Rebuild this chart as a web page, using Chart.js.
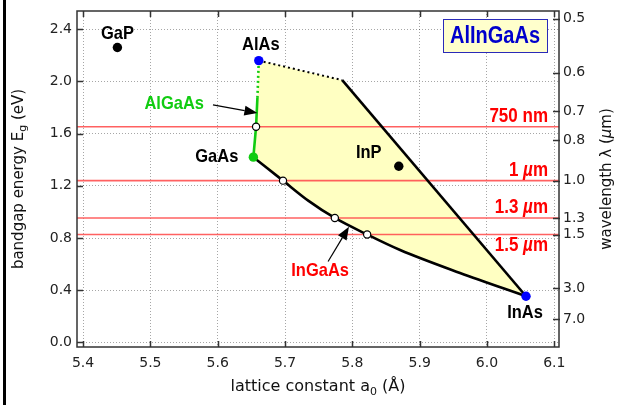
<!DOCTYPE html>
<html>
<head>
<meta charset="utf-8">
<script src="https://cdn.jsdelivr.net/npm/chart.js@4.4.1/dist/chart.umd.min.js"></script>
<style>
  html, body { margin: 0; padding: 0; background: #fff; }
  canvas { display: block; }
</style>
</head>
<body>
<canvas id="bandgapChart" width="618" height="405"></canvas>
<script>
// axis ranges and tick values
const X_MIN = 5.391, X_MAX = 6.107;
const EG_MIN = -0.035, EG_MAX = 2.54;
const xTicks = [5.4, 5.5, 5.6, 5.7, 5.8, 5.9, 6.0, 6.1];
const egTicks = [0.0, 0.4, 0.8, 1.2, 1.6, 2.0, 2.4];
const wavelengthTicks = [0.5, 0.6, 0.7, 0.8, 1.0, 1.3, 1.5, 3.0, 7.0];

// binary compounds: lattice constant (Å) and bandgap (eV)
const binaryNames = ['GaP', 'AlAs', 'GaAs', 'InP', 'InAs'];
const binaryA = [5.451, 5.661, 5.653, 5.869, 6.058];
const binaryEg = [2.26, 2.16, 1.42, 1.35, 0.354];

// InGaAs, GaAs -> InAs
const inGaAsA = [5.653, 5.697, 5.735, 5.774, 5.822, 5.871, 5.960, 6.058];
const inGaAsEg = [1.42, 1.24, 1.085, 0.954, 0.827, 0.708, 0.532, 0.354];

// AlGaAs, GaAs -> AlAs (direct part solid, indirect part dotted)
const alGaAsA = [5.653, 5.657, 5.659];
const alGaAsEg = [1.42, 1.653, 1.874];
const alGaAsIndA = [5.659, 5.661];
const alGaAsIndEg = [1.874, 2.16];

// AlInAs, AlAs -> InAs (indirect part dotted up to the kink)
const alInAsIndA = [5.661, 5.785];
const alInAsIndEg = [2.16, 2.01];
const alInAsA = [5.785, 6.058];
const alInAsEg = [2.01, 0.354];

// emission wavelengths (µm) marked across the plot
const lineWavelengths = [0.75, 1.0, 1.3, 1.5];
const lineLabels = ['750 nm', '1 µm', '1.3 µm', '1.5 µm'];

// alloys crossing those wavelengths
const crossA = [5.657, 5.697, 5.774, 5.822];
const crossEg = [1.653, 1.24, 0.954, 0.827];

const HC = 1.24; // eV·µm

const pts = (xs, ys) => xs.map((x, i) => ({ x, y: ys[i] }));

const region = [
    ...pts(alInAsIndA, alInAsIndEg),
    ...pts(alInAsA, alInAsEg).slice(1),
    ...pts(inGaAsA, inGaAsEg).reverse().slice(1),
    ...pts(alGaAsA, alGaAsEg).slice(1),
    ...pts(alGaAsIndA, alGaAsIndEg).slice(1)
];

const binaryColors = { GaP: '#000000', AlAs: '#0000ff', GaAs: '#11cc11', InP: '#000000', InAs: '#0000ff' };
// label placement around each point: dx, dy (px), align
const binaryLabelPos = {
    GaP: [0, -14, 'center'],
    AlAs: [2, -16, 'center'],
    GaAs: [-15, 0, 'right'],
    InP: [-30, -14, 'center'],
    InAs: [-1, 17, 'center']
};

const TICK_FONT = '"DejaVu Sans", Verdana, sans-serif';
const LABEL_FONT = '"Liberation Sans", Arial, Helvetica, sans-serif';

function drawRuns(ctx, runs, x, y, opts = {}) {
    const { align = 'center', rotate = 0, sy = 1, color = '#000' } = opts;
    ctx.save();
    ctx.translate(x, y);
    if (rotate) ctx.rotate(rotate);
    ctx.scale(1, sy);
    ctx.fillStyle = color;
    ctx.textBaseline = 'middle';
    ctx.textAlign = 'left';
    let total = 0;
    const widths = runs.map(r => {
        ctx.font = r.font;
        const w = ctx.measureText(r.text).width;
        total += w;
        return w;
    });
    let cx = align === 'right' ? -total : align === 'center' ? -total / 2 : 0;
    runs.forEach((r, i) => {
        ctx.font = r.font;
        ctx.fillText(r.text, cx, r.dy || 0);
        cx += widths[i];
    });
    ctx.restore();
}

function drawArrow(ctx, x1, y1, x2, y2) {
    const ang = Math.atan2(y2 - y1, x2 - x1);
    const len = 13, half = 5;
    const bx = x2 - len * Math.cos(ang), by = y2 - len * Math.sin(ang);
    ctx.save();
    ctx.strokeStyle = '#000';
    ctx.fillStyle = '#000';
    ctx.lineWidth = 1.2;
    ctx.beginPath();
    ctx.moveTo(x1, y1);
    ctx.lineTo(bx, by);
    ctx.stroke();
    ctx.beginPath();
    ctx.moveTo(x2, y2);
    ctx.lineTo(bx + half * Math.sin(ang), by - half * Math.cos(ang));
    ctx.lineTo(bx - half * Math.sin(ang), by + half * Math.cos(ang));
    ctx.closePath();
    ctx.fill();
    ctx.restore();
}

// arrows pointing at the ternary curves: [tail, tip] in data units
const arrows = {
    AlGaAs: [[5.593, 1.82], [5.659, 1.759]],
    InGaAs: [[5.764, 0.62], [5.795, 0.887]]
};

const decorations = {
    id: 'decorations',
    afterDraw(chart) {
        const ctx = chart.ctx;
        const { left, right, top, bottom } = chart.chartArea;
        const x = chart.scales.x, y = chart.scales.y, y2 = chart.scales.y2;

        // frame and inward ticks
        ctx.save();
        ctx.strokeStyle = '#333';
        ctx.lineWidth = 1.5;
        ctx.strokeRect(left, top, right - left, bottom - top);
        ctx.beginPath();
        xTicks.forEach(v => {
            const px = Math.round(x.getPixelForValue(v)) + 0.5;
            ctx.moveTo(px, bottom); ctx.lineTo(px, bottom - 6);
            ctx.moveTo(px, top); ctx.lineTo(px, top + 6);
        });
        egTicks.forEach(v => {
            const py = Math.round(y.getPixelForValue(v)) + 0.5;
            ctx.moveTo(left, py); ctx.lineTo(left + 6, py);
        });
        wavelengthTicks.forEach(l => {
            const py = Math.round(y2.getPixelForValue(HC / l)) + 0.5;
            ctx.moveTo(right + 1, py); ctx.lineTo(right - 6, py);
        });
        ctx.stroke();

        // left edge bar
        ctx.fillStyle = '#000';
        ctx.fillRect(3, 0, 3, chart.height);
        ctx.restore();

        // axis titles
        const tf = s => s + 'px ' + TICK_FONT;
        drawRuns(ctx, [
            { text: 'bandgap energy E', font: tf(15) },
            { text: 'g', font: tf(11), dy: 4 },
            { text: ' (eV)', font: tf(15) }
        ], 19, (top + bottom) / 2, { rotate: -Math.PI / 2, color: '#111' });
        drawRuns(ctx, [
            { text: 'lattice constant a', font: tf(16) },
            { text: '0', font: tf(11), dy: 5 },
            { text: ' (Å)', font: tf(16) }
        ], (left + right) / 2, 387, { color: '#111' });
        drawRuns(ctx, [
            { text: 'wavelength λ (', font: tf(15) },
            { text: 'µ', font: 'italic ' + tf(15) },
            { text: 'm)', font: tf(15) }
        ], 607, (top + bottom) / 2, { rotate: -Math.PI / 2, color: '#111' });

        const lf = s => 'bold ' + s + 'px ' + LABEL_FONT;
        const lfi = s => 'italic bold ' + s + 'px ' + LABEL_FONT;
        const SY = 1.15;

        // compound names
        binaryNames.forEach((name, i) => {
            const [dx, dy, align] = binaryLabelPos[name];
            drawRuns(ctx, [{ text: name, font: lf(16.5) }],
                x.getPixelForValue(binaryA[i]) + dx, y.getPixelForValue(binaryEg[i]) + dy,
                { align, sy: SY });
        });

        // wavelength line labels
        lineWavelengths.forEach((l, i) => {
            const py = y.getPixelForValue(HC / l);
            const dy = i === lineWavelengths.length - 1 ? 11 : -10;
            const parts = lineLabels[i].split('µ');
            const runs = parts.length > 1
                ? [{ text: parts[0], font: lf(17) }, { text: 'µ', font: lfi(17) }, { text: parts[1], font: lf(17) }]
                : [{ text: parts[0], font: lf(17) }];
            drawRuns(ctx, runs, right - 11, py + dy, { align: 'right', sy: SY, color: '#ff0000' });
        });

        // arrows + ternary names
        const toPx = p => [x.getPixelForValue(p[0]), y.getPixelForValue(p[1])];
        const [ga1, ga2] = arrows.AlGaAs.map(toPx);
        drawArrow(ctx, ga1[0], ga1[1], ga2[0], ga2[1]);
        drawRuns(ctx, [{ text: 'AlGaAs', font: lf(16.5) }], ga1[0] - 9, ga1[1] - 1,
            { align: 'right', sy: SY, color: '#11cc11' });
        const [ig1, ig2] = arrows.InGaAs.map(toPx);
        drawArrow(ctx, ig1[0], ig1[1], ig2[0], ig2[1]);
        drawRuns(ctx, [{ text: 'InGaAs', font: lf(16.5) }], ig1[0] - 8, ig1[1] + 9,
            { align: 'center', sy: SY, color: '#ff0000' });

        // system name box
        const bw = 104, bh = 33, bx = right - 12 - bw, by = top + 8;
        ctx.save();
        ctx.fillStyle = '#ffffcc';
        ctx.fillRect(bx, by, bw, bh);
        ctx.strokeStyle = '#2a2ab8';
        ctx.lineWidth = 1;
        ctx.strokeRect(bx + 0.5, by + 0.5, bw, bh);
        ctx.restore();
        drawRuns(ctx, [{ text: 'AlInGaAs', font: lf(20) }], bx + bw / 2, by + bh / 2 + 1,
            { sy: SY, color: '#0000cc' });
    }
};

const tickFont = { family: TICK_FONT, size: 14 };
const noPad = s => { s.paddingTop = 0; s.paddingBottom = 0; s.paddingLeft = 0; s.paddingRight = 0; };

new Chart(document.getElementById('bandgapChart'), {
    type: 'line',
    data: {
        datasets: [
            {
                data: pts(binaryA, binaryEg),
                showLine: false,
                pointRadius: 4.7,
                pointBorderWidth: 0,
                pointBackgroundColor: binaryNames.map(n => binaryColors[n]),
                order: 0
            },
            {
                data: pts(crossA, crossEg),
                showLine: false,
                pointRadius: 3.6,
                pointBorderWidth: 1.2,
                pointBorderColor: '#000',
                pointBackgroundColor: '#fff',
                order: 1
            },
            {
                data: pts(inGaAsA, inGaAsEg),
                borderColor: '#000',
                borderWidth: 2.6,
                cubicInterpolationMode: 'monotone',
                pointRadius: 0,
                order: 2
            },
            {
                data: pts(alInAsA, alInAsEg),
                borderColor: '#000',
                borderWidth: 2.6,
                pointRadius: 0,
                order: 2
            },
            {
                data: pts(alInAsIndA, alInAsIndEg),
                borderColor: '#000',
                borderWidth: 2,
                borderDash: [2, 3],
                pointRadius: 0,
                order: 2
            },
            {
                data: pts(alGaAsA, alGaAsEg),
                borderColor: '#11cc11',
                borderWidth: 2.6,
                pointRadius: 0,
                order: 2
            },
            {
                data: pts(alGaAsIndA, alGaAsIndEg),
                borderColor: '#11cc11',
                borderWidth: 2.6,
                borderDash: [2, 3],
                pointRadius: 0,
                order: 2
            },
            ...lineWavelengths.map(l => ({
                data: [{ x: X_MIN, y: HC / l }, { x: X_MAX, y: HC / l }],
                borderColor: 'rgba(255, 80, 80, 0.9)',
                borderWidth: 1.6,
                pointRadius: 0,
                order: 3
            })),
            {
                data: region,
                borderWidth: 0,
                pointRadius: 0,
                backgroundColor: '#ffffc2',
                fill: 'shape',
                order: 4
            }
        ]
    },
    options: {
        responsive: false,
        animation: false,
        devicePixelRatio: 1,
        layout: { padding: { top: 11, left: 0, right: 0, bottom: 0 } },
        plugins: {
            legend: { display: false },
            tooltip: { enabled: false }
        },
        scales: {
            x: {
                type: 'linear',
                min: X_MIN,
                max: X_MAX,
                afterBuildTicks: s => { s.ticks = xTicks.map(v => ({ value: v })); },
                afterFit: s => { noPad(s); s.height = 58; },
                ticks: {
                    callback: v => v.toFixed(1),
                    font: tickFont,
                    color: '#222',
                    padding: 8,
                    maxRotation: 0,
                    autoSkip: false
                },
                grid: { color: 'rgba(0,0,0,0.35)', drawTicks: false, lineWidth: 1 },
                border: { display: false, dash: [1, 2] }
            },
            y: {
                type: 'linear',
                position: 'left',
                min: EG_MIN,
                max: EG_MAX,
                afterBuildTicks: s => { s.ticks = egTicks.map(v => ({ value: v })); },
                afterFit: s => { noPad(s); s.width = 77; },
                ticks: {
                    callback: v => v.toFixed(1),
                    font: tickFont,
                    color: '#222',
                    padding: 5,
                    autoSkip: false
                },
                grid: { color: 'rgba(0,0,0,0.35)', drawTicks: false, lineWidth: 1 },
                border: { display: false, dash: [1, 2] }
            },
            y2: {
                type: 'linear',
                axis: 'y',
                position: 'right',
                min: EG_MIN,
                max: EG_MAX,
                afterBuildTicks: s => { s.ticks = wavelengthTicks.map(l => ({ value: HC / l })); },
                afterFit: s => { noPad(s); s.width = 59; },
                ticks: {
                    callback: (v, i) => wavelengthTicks[i].toFixed(1),
                    font: tickFont,
                    color: '#222',
                    padding: 4,
                    autoSkip: false
                },
                grid: { drawOnChartArea: false, drawTicks: false },
                border: { display: false }
            }
        }
    },
    plugins: [decorations]
});
</script>
</body>
</html>
